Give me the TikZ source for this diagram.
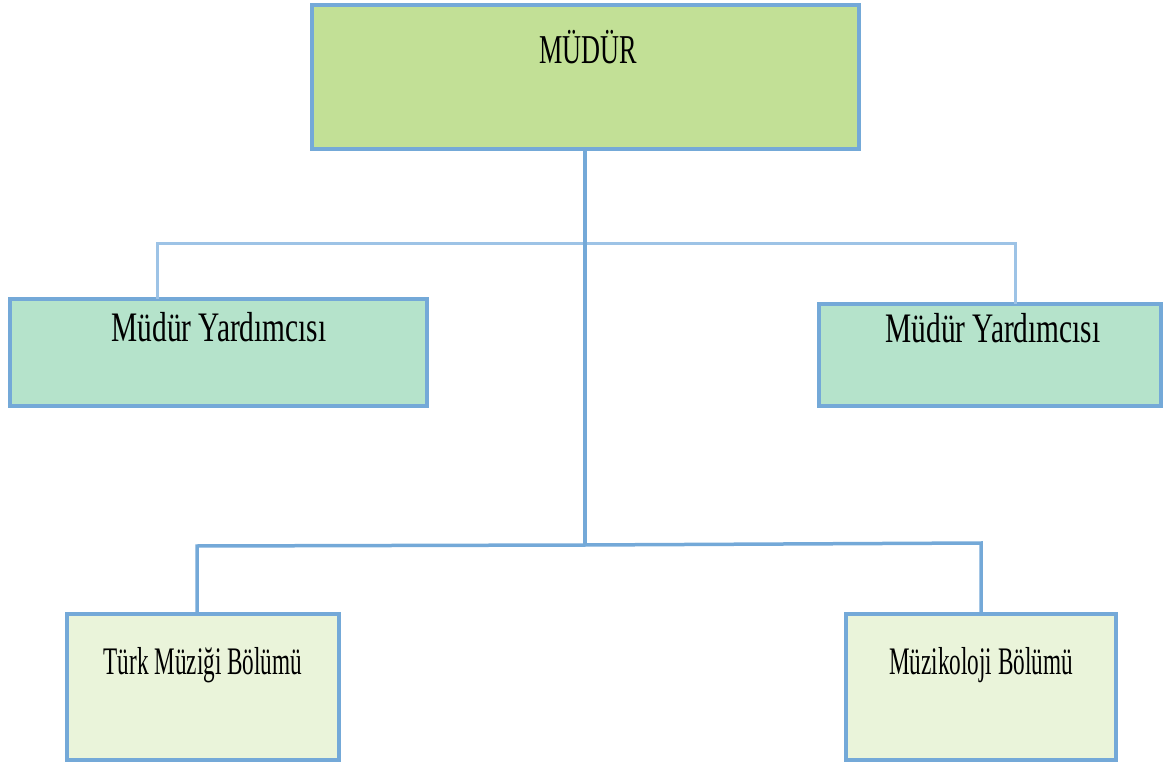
\documentclass[tikz,border=0pt]{standalone}
\usepackage{fontspec}
\setmainfont{Liberation Serif}
\newfontfamily\ftop[FakeStretch=0.64]{Liberation Serif}
\newfontfamily\fmid[FakeStretch=0.70]{Liberation Serif}
\newfontfamily\fbot[FakeStretch=0.595]{Liberation Serif}
\definecolor{bordblue}{HTML}{74A9D8}
\definecolor{linelight}{HTML}{9DC3E6}
\definecolor{topfill}{HTML}{C2E096}
\definecolor{midfill}{HTML}{B5E3CB}
\definecolor{botfill}{HTML}{EAF4DA}
\begin{document}
\begin{tikzpicture}[x=1pt,y=-1pt,
  box/.style={draw=bordblue,line width=4pt,inner sep=0pt,outer sep=0pt},
  txt/.style={anchor=base,inner sep=0pt,text=black},
  mainline/.style={draw=bordblue,line width=3.5pt},
  lightline/.style={draw=linelight,line width=3pt}]
\useasboundingbox (0,0) rectangle (1168,767);
% boxes
\node[box,fill=topfill,minimum width=547pt,minimum height=144pt] (top) at (585.5,77) {};
\node[box,fill=midfill,minimum width=417pt,minimum height=107pt] (ml) at (218.5,352.5) {};
\node[box,fill=midfill,minimum width=342pt,minimum height=102pt] (mr) at (990,355) {};
\node[box,fill=botfill,minimum width=272pt,minimum height=146pt] (bl) at (203,687) {};
\node[box,fill=botfill,minimum width=270pt,minimum height=146pt] (br) at (981,687) {};
% texts
\node[txt,font=\ftop\fontsize{41}{41}\selectfont] (ttop) at (588,64) {MÜDÜR};
\node[txt,font=\fmid\fontsize{42}{42}\selectfont] (tml) at (219,342) {Müdür Yardımcısı};
\node[txt,font=\fmid\fontsize{42}{42}\selectfont] (tmr) at (993,343) {Müdür Yardımcısı};
\node[txt,font=\fbot\fontsize{39}{39}\selectfont] (tbl) at (203,674) {Türk Müziği Bölümü};
\node[txt,font=\fbot\fontsize{39}{39}\selectfont] (tbr) at (981,674) {Müzikoloji Bölümü};
% connector coordinates
\coordinate (hl) at (157,244);
\coordinate (hr) at (1015,244);
\coordinate (jm) at (585,545);
\coordinate (jl) at (197,546);
\coordinate (jr) at (981,543);
% upper light connector
\draw[lightline] (hl |- ml.north) -- (hl) -- (hr) -- (hr |- mr.north);
% main vertical and lower connector
\draw[mainline] (top.south -| jm) -- (jm);
\draw[mainline,line join=miter] (jl |- bl.north) -- (jl) -- (jm) -- (jr) -- (jr |- br.north);
\end{tikzpicture}
\end{document}
